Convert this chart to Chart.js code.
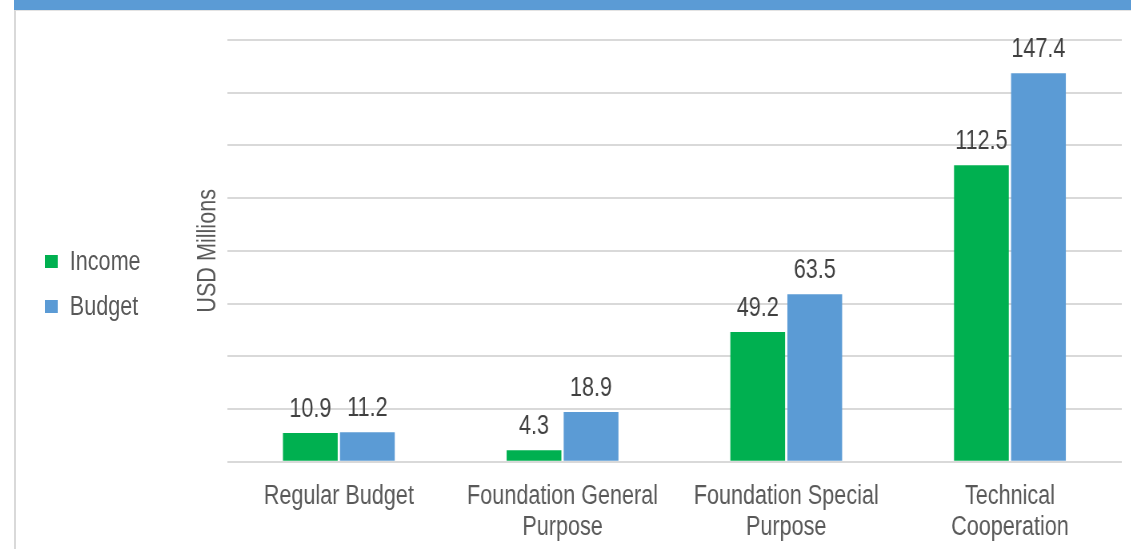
<!DOCTYPE html>
<html>
<head>
<meta charset="utf-8">
<script src="https://cdn.jsdelivr.net/npm/chart.js@4.4.1/dist/chart.umd.min.js"></script>
<style>
    html, body {
        margin: 0;
        padding: 0;
        width: 1131px;
        height: 549px;
        overflow: hidden;
        background: #ffffff;
        font-family: "Liberation Sans", Arial, sans-serif;
    }
    .top-band {
        position: absolute;
        left: 14px;
        top: 0;
        width: 1130px;
        height: 10px;
        background: #5B9BD5;
    }
    .frame {
        position: absolute;
        left: 14px;
        top: 10px;
        width: 1130px;
        height: 560px;
        border-left: 2px solid #d9d9d9;
        border-top: 1px solid #e3e3e3;
    }
    .chart-wrap {
        position: absolute;
        left: 17px;
        top: 11px;
        width: 1393px;
        height: 538px;
        transform: scaleX(0.8);
        transform-origin: 0 0;
    }
    .legend-item {
        position: absolute;
        left: 35px;
        height: 30px;
        display: flex;
        align-items: center;
        color: #595959;
        font-size: 27px;
        white-space: nowrap;
    }
    .legend-box {
        width: 16px;
        height: 13px;
        margin-right: 15px;
    }
</style>
</head>
<body>
<div class="top-band"></div>
<div class="frame"></div>
<div class="chart-wrap">
    <canvas id="fundChart" width="1393" height="538"></canvas>
    <div id="fundLegend"></div>
</div>
<script>
// Data
const categories = ['Regular Budget', ['Foundation General', 'Purpose'], ['Foundation Special', 'Purpose'], ['Technical', 'Cooperation']]
const seriesNames = ['Income', 'Budget']
const incomeValues = [10.9, 4.3, 49.2, 112.5]
const budgetValues = [11.2, 18.9, 63.5, 147.4]
const yMax = 160
const yStep = 20
const yTitle = 'USD Millions'

const squish = 0.8
const seriesColors = ['#00B050', '#5B9BD5']
const fontFamily = '"Liberation Sans", Arial, sans-serif'

// Start Legend JS
const legendDiv = document.getElementById('fundLegend')
const legendTops = [235, 280]
seriesNames.forEach((name, i) => {
    let item = document.createElement('div')
    item.className = 'legend-item'
    item.style.top = legendTops[i] + 'px'
    let box = document.createElement('div')
    box.className = 'legend-box'
    box.style.background = seriesColors[i]
    item.appendChild(box)
    item.appendChild(document.createTextNode(name))
    legendDiv.appendChild(item)
});
// End Legend JS

// value labels above each bar
const valueLabels = {
    id: 'valueLabels',
    afterDatasetsDraw(chart) {
        let ctx = chart.ctx
        ctx.save()
        ctx.font = '27px ' + fontFamily
        ctx.fillStyle = '#404040'
        ctx.textAlign = 'center'
        ctx.textBaseline = 'alphabetic'
        chart.data.datasets.forEach((ds, i) => {
            chart.getDatasetMeta(i).data.forEach((bar, j) => {
                ctx.fillText(ds.data[j].toFixed(1), bar.x, bar.y - 16)
            });
        });
        ctx.restore()
    }
}

// rotated axis title, compressed along the text like the other labels
const yAxisTitle = {
    id: 'yAxisTitle',
    afterDraw(chart) {
        let ctx = chart.ctx
        let area = chart.chartArea
        ctx.save()
        ctx.translate(238.75, (area.top + area.bottom) / 2)
        ctx.rotate(-Math.PI / 2)
        ctx.scale(squish, 1 / squish)
        ctx.font = '27px ' + fontFamily
        ctx.fillStyle = '#595959'
        ctx.textAlign = 'center'
        ctx.textBaseline = 'middle'
        ctx.fillText(yTitle, 0, 0)
        ctx.restore()
    }
}

//Start Fund Chart JS
const fundCanvas = document.getElementById('fundChart')
const fundChart = new Chart(fundCanvas, {
    type: 'bar',
    data: {
        labels: categories,
        datasets: [{
            label: seriesNames[0],
            data: incomeValues,
            backgroundColor: seriesColors[0]
        }, {
            label: seriesNames[1],
            data: budgetValues,
            backgroundColor: seriesColors[1]
        }]
    },
    options: {
        responsive: false,
        animation: false,
        categoryPercentage: 0.51,
        barPercentage: 0.96,
        layout: {
            padding: { top: 29, right: 12, bottom: 0, left: 0 }
        },
        plugins: {
            legend: { display: false },
            tooltip: { enabled: false }
        },
        scales: {
            x: {
                grid: { display: false },
                border: { display: false },
                ticks: {
                    color: '#595959',
                    padding: 12,
                    maxRotation: 0,
                    autoSkip: false,
                    font: { family: fontFamily, size: 27, lineHeight: 1.12 }
                },
                afterFit: (scale) => { scale.height = 87.3 }
            },
            y: {
                min: 0,
                max: yMax,
                border: { display: false },
                grid: { color: '#d9d9d9', lineWidth: 2, drawTicks: false },
                ticks: { display: false, stepSize: yStep },
                afterFit: (scale) => { scale.width = 262.5 }
            }
        }
    },
    plugins: [valueLabels, yAxisTitle]
});
//End Fund Chart JS
</script>
</body>
</html>
